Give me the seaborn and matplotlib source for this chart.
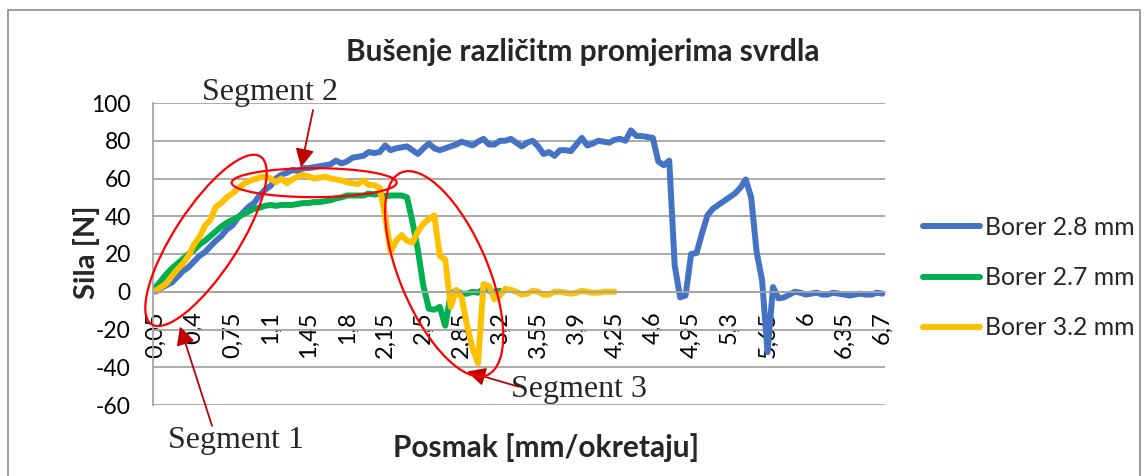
import numpy as np
import pandas as pd
import matplotlib
matplotlib.use("Agg")
import matplotlib.pyplot as plt
import seaborn as sns
from matplotlib.patches import Ellipse, Rectangle
from matplotlib.transforms import IdentityTransform

# ---------------- data ----------------
posmak = [round(0.05 * (k + 1), 2) for k in range(134)]  # mm/okretaju, categories

borer_28 = [0, 2, 3.5, 5, 8, 11, 13, 16, 19, 21, 24, 27, 29.5, 33, 35, 39, 42, 45, 47, 51,
            54, 56, 60, 62, 63, 64.5, 64, 65.5, 65.5, 66, 66.5, 67, 67.5, 69.5, 68, 69, 71, 71.5, 72, 74,
            73.5, 74, 77.5, 75, 76, 76.5, 77, 75, 73, 76, 78.5, 76, 75, 76, 77, 78, 79.5, 78.5, 77.5, 79.5,
            81, 78, 78, 80, 80, 81, 79, 77, 79, 80, 77, 73, 74, 72, 75, 75, 74.5, 78, 81.5, 77.5,
            78.5, 80, 79.5, 79, 80.5, 81, 80, 85.5, 82.5, 82.5, 82, 81.5, 69, 67, 69.5, 14, -3, -2, 20, 20.5,
            31, 40.5, 44, 46, 48, 50, 52, 55, 59.5, 50, 21, 6, -32, 2.5, -3.5, -3, -1.5, 0, -0.5, -1.5,
            -1, -0.5, -1.5, -1.5, -0.5, -1, -1.5, -2, -1.5, -1, -1.5, -1.5, -0.5, -1]

borer_27 = [2.5, 6, 9.5, 12.5, 15, 17.5, 20, 22, 25, 27, 29.5, 32, 34.5, 36.5, 38, 39.5, 41, 42.5, 44, 44.5,
            45.5, 46, 45.5, 46, 46, 46, 46.5, 47, 47, 47.5, 47.5, 48, 48.5, 49.5, 50, 51, 51, 51, 51, 52,
            51.5, 52, 50.5, 51, 51, 51, 50, 37, 22, 3, -9, -9.5, -8, -18, -1, 0.5, -1, -1, 0, -0.5,
            1.5, 0.5, 0, 0.5]

borer_32 = [0.5, 2.5, 4.5, 8.5, 12, 15, 19, 25, 29, 35, 38, 45, 47, 50, 52, 54.5, 57, 58.5, 59.5, 60.5,
            61, 60, 58, 60, 57.5, 59.5, 61, 62, 61, 60, 60.5, 61, 60, 59.5, 59, 58, 57.5, 57, 59, 56.5,
            56.5, 55, 40, 21, 27, 30, 27, 26, 32, 36, 38.5, 40.5, 19, 17, -8, 1, -3, -18, -30, -38,
            4, 3, -4, -2, 1.5, 1, 0, -1.5, -1, 0.5, 0, -1.5, -1.5, 0, 0, -0.5, -1, -0.5, 0.5, 0,
            -0.5, -0.5, 0, 0, 0]

series_names = ["Borer 2.8 mm", "Borer 2.7 mm", "Borer 3.2 mm"]
series_colors = ["#4472C4", "#00B050", "#FFC000"]

# ---------------- frame ----------------
def pad(vals, n):
    return list(vals) + [np.nan] * (n - len(vals))

n = len(posmak)
pos = np.arange(n)
df = pd.concat([
    pd.DataFrame({"pos": pos, "Sila": pad(v, n), "Borer": name})
    for v, name in zip([borer_28, borer_27, borer_32], series_names)
], ignore_index=True).dropna()

sns.set_theme(style="white")
plt.rcParams["font.family"] = ["Lato", "DejaVu Sans"]
plt.rcParams["axes.unicode_minus"] = False

W, H = 1145, 476
fig = plt.figure(figsize=(W / 100, H / 100), dpi=100)
ax = fig.add_axes([153 / W, 1 - 405 / H, (885 - 153) / W, (405 - 103) / H])

sns.lineplot(data=df, x="pos", y="Sila", hue="Borer", hue_order=series_names,
             palette=series_colors, sort=False, lw=4.3, ax=ax, legend=True,
             solid_joinstyle="round", solid_capstyle="round")

ax.set_xlim(-0.5, n - 0.5)
ax.set_ylim(-60, 100)
ax.set_yticks(np.arange(-60, 101, 20))
ax.yaxis.grid(True, color="#A5A5A5", lw=1.3)
ax.set_axisbelow(True)
for s in ["top", "right"]:
    ax.spines[s].set_visible(False)
ax.spines["left"].set_color("#A5A5A5")
ax.spines["left"].set_linewidth(1.3)
ax.spines["bottom"].set_position(("data", 0))
ax.spines["bottom"].set_color("#A5A5A5")
ax.spines["bottom"].set_linewidth(1.3)

tick_idx = pos[::7]
ax.set_xticks(tick_idx)
ax.set_xticklabels([("%g" % posmak[i]).replace(".", ",") for i in tick_idx], rotation=90)
ax.tick_params(axis="x", length=0, pad=14, labelsize=17, colors="black")
ax.tick_params(axis="y", length=0, pad=16, labelsize=16.5, colors="black")
ax.set_xlabel("")
ax.set_ylabel("")

leg = ax.legend(loc="upper left", bbox_to_anchor=(923 / W, 1 - 216 / H),
                bbox_transform=fig.transFigure, frameon=False, fontsize=17.8,
                handlelength=2.3, handletextpad=0.2, labelspacing=1.1,
                borderpad=0, borderaxespad=0)
for line in leg.get_lines():
    line.set_linewidth(4.3)
    line.set_solid_capstyle("round")

fig.text(583 / W, 1 - 52 / H, "Bušenje različitm promjerima svrdla",
         ha="center", va="center", fontsize=21.5, weight="bold")
fig.text(546 / W, 1 - 448 / H, "Posmak [mm/okretaju]",
         ha="center", va="center", fontsize=21.5, weight="bold")
fig.text(87 / W, 1 - 252 / H, "Sila [N]", rotation=90,
         ha="center", va="center", fontsize=21, weight="bold")

# outer chart border
fig.patches.append(Rectangle((8 / W, -0.1), (1140 - 8) / W, (H - 10) / H + 0.1,
                             transform=fig.transFigure, fill=False,
                             ec="#8C8C8C", lw=1.2))

# ---------------- annotations ----------------
def disp(xd, yd):
    return ax.transData.transform((xd, yd))

ellipses = [  # (center pos, center value, width px, height px, angle)
    (9.2, 27.2, 200, 64, 57),
    (29.0, 57.8, 165, 29, 0),
    (52.8, 9.5, 220, 88, -67),
]
for cx, cy, w, h, a in ellipses:
    c = disp(cx, cy)
    fig.patches.append(Ellipse(c, w, h, angle=a, transform=IdentityTransform(),
                               fill=False, ec="#FF0000", lw=1.6, zorder=10))

notes = [  # text, text pos, arrow tail, arrow tip
    ("Segment 1", (14.7, -79), (10.3, -71), (4.45, -18.4)),
    ("Segment 2", (20.9, 105.5), (28.8, 96.3), (26.6, 66)),
    ("Segment 3", (77.5, -52), (66.4, -50.3), (57.0, -42.3)),
]
for txt, tpos, tail, tip in notes:
    ax.text(*tpos, txt, ha="center", va="center", fontsize=23,
            family="Liberation Serif", clip_on=False, zorder=11)
    ax.annotate("", xy=tip, xytext=tail, annotation_clip=False,
                arrowprops=dict(arrowstyle="-|>,head_length=0.55,head_width=0.28",
                                mutation_scale=20, color="#C00000", lw=1.3,
                                shrinkA=0, shrinkB=0), zorder=11)

fig.savefig("out.png", dpi=100)
